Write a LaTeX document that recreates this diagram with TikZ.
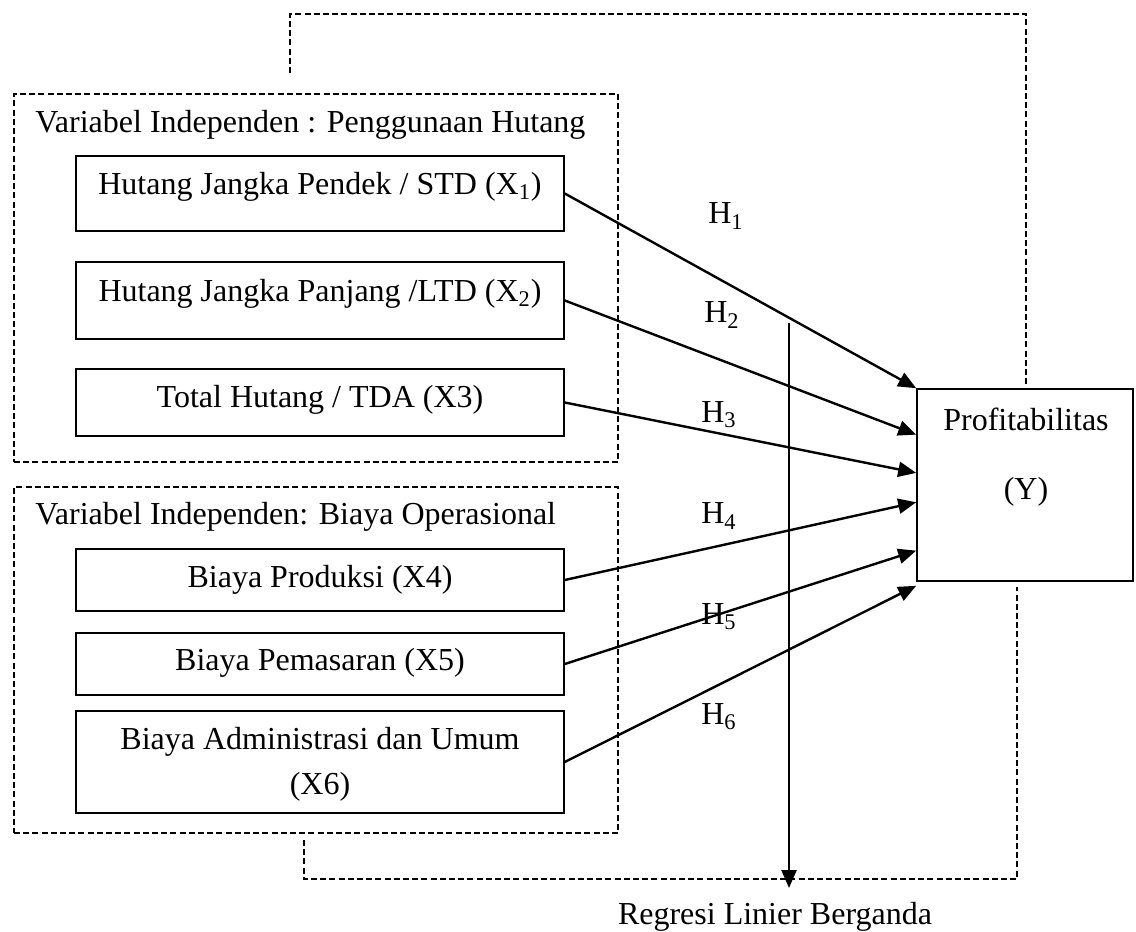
\documentclass[tikz,border=0pt]{standalone}
\usepackage{fontspec}
\setmainfont{Liberation Serif}
\usetikzlibrary{arrows.meta,calc}
\newdimen\pxu \pxu=0.5pt
\begin{document}
\begin{tikzpicture}[x=0.5pt,y=-0.5pt,
  font=\fontsize{16}{20}\selectfont,
  box/.style={draw,line width=0.8pt,minimum width=488\pxu,inner sep=0pt},
  framebox/.style={draw,dash pattern=on 3pt off 1.6pt,line width=0.65pt,minimum width=604\pxu,inner sep=0pt},
  txt/.style={inner sep=0pt},
  link/.style={line width=1.2pt,-{Triangle[length=9pt,width=7.5pt]}},
  guide/.style={dash pattern=on 3pt off 1.6pt,line width=0.65pt}]
\useasboundingbox (0,0) rectangle (1136,932);

% frames
\node[framebox,minimum height=368\pxu] (f1) at (316,278) {};
\node[framebox,minimum height=346\pxu] (f2) at (316,660) {};
\node[txt,anchor=west] (t1) at (35,125) {Variabel Independen : Penggunaan Hutang};
\node[txt,anchor=west] (t2) at (35,517) {Variabel Independen: Biaya Operasional};

% boxes
\node[box,minimum height=75\pxu] (x1) at (320,193.5) {};
\node[txt] (x1t) at (320,187) {Hutang Jangka Pendek / STD (X\textsubscript{1})};
\node[box,minimum height=77\pxu] (x2) at (320,300.5) {};
\node[txt] (x2t) at (320,294) {Hutang Jangka Panjang /LTD (X\textsubscript{2})};
\node[box,minimum height=67\pxu] (x3) at (320,402.5) {};
\node[txt] (x3t) at (320,400) {Total Hutang / TDA (X3)};
\node[box,minimum height=62\pxu] (x4) at (320,580) {};
\node[txt] (x4t) at (320,580) {Biaya Produksi (X4)};
\node[box,minimum height=62\pxu] (x5) at (320,664) {};
\node[txt] (x5t) at (320,663) {Biaya Pemasaran (X5)};
\node[box,minimum height=102\pxu] (x6) at (320,762) {};
\node[txt,align=center,font=\fontsize{16}{22.5}\selectfont] (x6t) at (320,764.5) {Biaya Administrasi dan Umum\\(X6)};

% dependent
\node[box,minimum width=216\pxu,minimum height=192\pxu] (Y) at (1025,485) {};
\node[txt] (yt1) at (1026,419) {Profitabilitas};
\node[txt] (yt2) at (1026,492) {(Y)};

% hypothesis labels
\node[txt] (h1) at (726,216) {H\textsubscript{1}};
\node[txt] (h2) at (722,315) {H\textsubscript{2}};
\node[txt] (h3) at (719,415) {H\textsubscript{3}};
\node[txt] (h4) at (719,516) {H\textsubscript{4}};
\node[txt] (h5) at (719,617) {H\textsubscript{5}};
\node[txt] (h6) at (719,717) {H\textsubscript{6}};

% arrows to Y
\draw[link] (x1.east) -- (Y.north west);
\draw[link] (x2.east) -- ($(Y.north west)!0.24!(Y.south west)$);
\draw[link] (x3.east) -- ($(Y.north west)!0.4375!(Y.south west)$);
\draw[link] (x4.east) -- ($(Y.north west)!0.589!(Y.south west)$);
\draw[link] (x5.east) -- ($(Y.north west)!0.839!(Y.south west)$);
\draw[link] (x6.east) -- ($(Y.south west)+(0,4)$);

% regression
\coordinate (rtop) at (789,323);
\coordinate (rend) at (789,888);
\node[txt] (reg) at (775,917) {Regresi Linier Berganda};
\draw[link] (rtop) -- (rend);

% dashed guides
\coordinate (ga) at (290,73);
\coordinate (gb) at (290,14);
\coordinate (gc) at (1026,14);
\coordinate (gd) at (1026,385);
\draw[guide] (ga) -- (gb) -- (gc) -- (gd);
\coordinate (ba) at (304,840);
\coordinate (bb) at (304,879);
\coordinate (bc) at (1017,879);
\coordinate (bd) at (1017,587);
\draw[guide] (ba) -- (bb) -- (bc) -- (bd);
\end{tikzpicture}
\end{document}
